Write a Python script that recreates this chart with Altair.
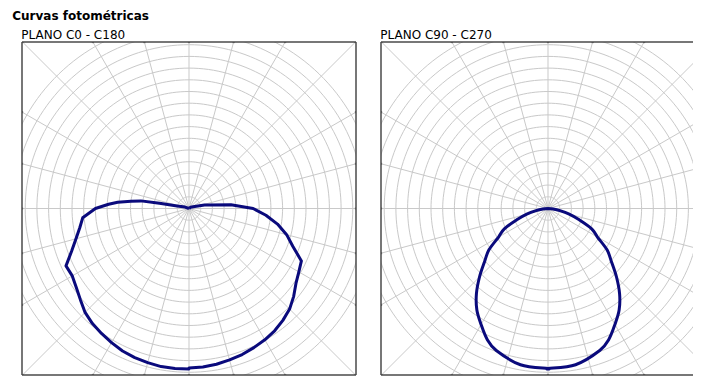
import altair as alt
import pandas as pd
import numpy as np

TITLE = "Curvas fotométricas"
PLANE_TITLES = ["PLANO C0 - C180", "PLANO C90 - C270"]

# Luminous intensity (cd/klm) vs. gamma angle (deg from nadir)
GAMMA_C0 = [0, 5, 10, 15, 20, 25, 30, 35, 40, 45, 50, 55, 60, 65, 70, 75, 80, 85, 90, 95, 100, 103, 110, 130, 180]
I_C0 = [341, 340, 338, 335, 332, 328, 324, 319, 312, 304, 292, 279, 271, 265, 236, 216, 192, 165, 137, 90, 43, 34, 13, 4, 0]
GAMMA_C180 = [0, 5, 10, 15, 20, 25, 30, 35, 40, 45, 50, 55, 60, 65, 70, 75, 80, 85, 90, 93, 95, 97, 99, 100, 102, 110, 180]
I_C180 = [343, 343, 343, 341, 339, 336, 331, 326, 321, 314, 303, 294, 288, 290, 267, 250, 237, 228, 200, 172, 153, 125, 104, 64, 26, 9, 0]
GAMMA_C90 = [0, 10, 20, 25, 30, 35, 40, 45, 50, 55, 60, 65, 70, 75, 80, 85, 90]
I_C90 = [342, 339, 323, 308, 286, 265, 238, 207, 177, 154, 122, 103, 71, 47, 26, 11, 0]
GAMMA_C270 = GAMMA_C90
I_C270 = I_C90

CIRCLE_STEP = 25      # cd/klm between grid circles
N_CIRCLES = 16
SPOKE_STEP = 15       # degrees between radial lines

# style / layout
PX_PER_STEP = 11.7
PX = PX_PER_STEP / CIRCLE_STEP
W, H = 334, 333
W_RIGHT = 312          # right panel is cut by the window edge
HALF_W = W / 2
GRID = "#c9c9c9"
CURVE = "#0a0a7c"
BORDER = "#4a4a4a"
FONT = "DejaVu Sans"


def curve_frame(g_left, i_left, g_right, i_right):
    rows = []
    for g, i in zip(reversed(g_left), reversed(i_left)):
        rows.append({"g": g, "I": i, "side": -1})
    for g, i in zip(g_right, i_right):
        rows.append({"g": g, "I": i, "side": 1})
    df = pd.DataFrame(rows)
    df["seq"] = range(len(df))
    return df


# grid circles
t = np.arange(0, 361, 2)
circ_rows = []
for k in range(1, N_CIRCLES + 1):
    r = k * CIRCLE_STEP
    for tt in t:
        circ_rows.append({"r": r, "t": tt,
                          "x": r * np.cos(np.radians(tt)),
                          "y": r * np.sin(np.radians(tt))})
circ_df = pd.DataFrame(circ_rows)

# spokes
L = 3 * (H / 2) / PX
ang = np.arange(0, 360, SPOKE_STEP)
spoke_df = pd.DataFrame({"x0": 0.0, "y0": 0.0,
                         "x1": L * np.sin(np.radians(ang)),
                         "y1": L * np.cos(np.radians(ang))})


def border_ticks():
    hx = HALF_W / PX
    hy = (H / 2) / PX
    rows = []
    for a in ang:
        s, c = np.sin(np.radians(a)), np.cos(np.radians(a))
        tx = hx / abs(s) if abs(s) > 1e-9 else np.inf
        ty = hy / abs(c) if abs(c) > 1e-9 else np.inf
        tt = min(tx, ty)
        rows.append({"bx": tt * s, "by": tt * c})
    return pd.DataFrame(rows)


tick_df = border_ticks()


def panel(cdf, title, width, right_border, interp):
    xs = alt.Scale(domain=[-HALF_W / PX, (width - HALF_W) / PX], nice=False, zero=False)
    ys = alt.Scale(domain=[-(H / 2) / PX, (H / 2) / PX], nice=False, zero=False)
    circles = alt.Chart(circ_df).mark_line(color=GRID, strokeWidth=1, clip=True).encode(
        x=alt.X("x:Q", scale=xs, axis=None),
        y=alt.Y("y:Q", scale=ys, axis=None),
        detail="r:N", order="t:Q")
    spokes = alt.Chart(spoke_df).mark_rule(color=GRID, strokeWidth=1, clip=True).encode(
        x=alt.X("x0:Q", scale=xs, axis=None),
        y=alt.Y("y0:Q", scale=ys, axis=None),
        x2="x1:Q", y2="y1:Q")
    curve = alt.Chart(cdf).transform_calculate(
        cx="datum.side * datum.I * sin(datum.g * PI / 180)",
        cy="-datum.I * cos(datum.g * PI / 180)",
    ).mark_line(color=CURVE, strokeWidth=3, clip=True, strokeJoin="round",
                interpolate=interp).encode(
        x=alt.X("cx:Q", scale=xs, axis=None),
        y=alt.Y("cy:Q", scale=ys, axis=None),
        order="seq:Q")
    ticks = alt.Chart(tick_df).mark_point(
        shape="square", size=5, filled=True, color="#777777", opacity=1, clip=True).encode(
        x=alt.X("bx:Q", scale=xs, axis=None),
        y=alt.Y("by:Q", scale=ys, axis=None))
    bw = 1.5
    edges = [
        alt.Chart().mark_rule(color=BORDER, strokeWidth=bw).encode(
            x=alt.value(0), y=alt.value(0), y2=alt.value(H)),
        alt.Chart().mark_rule(color=BORDER, strokeWidth=bw).encode(
            x=alt.value(0), x2=alt.value(width), y=alt.value(0)),
        alt.Chart().mark_rule(color=BORDER, strokeWidth=bw).encode(
            x=alt.value(0), x2=alt.value(width), y=alt.value(H)),
    ]
    if right_border:
        edges.append(alt.Chart().mark_rule(color=BORDER, strokeWidth=bw).encode(
            x=alt.value(width), y=alt.value(0), y2=alt.value(H)))
    return alt.layer(circles, spokes, curve, ticks, *edges).properties(
        width=width, height=H,
        title=alt.TitleParams(title, anchor="start", fontSize=12, font=FONT,
                              fontWeight="normal", color="#000", offset=-10,
                              baseline="alphabetic"))


left = panel(curve_frame(GAMMA_C180, I_C180, GAMMA_C0, I_C0), PLANE_TITLES[0], W, True, "linear")
right = panel(curve_frame(GAMMA_C270, I_C270, GAMMA_C90, I_C90), PLANE_TITLES[1], W_RIGHT, False, "cardinal")

chart = alt.hconcat(left, right, spacing=23).properties(
    title=alt.TitleParams(TITLE, anchor="start", fontSize=12, font=FONT,
                          fontWeight="bold", color="#000", offset=-3,
                          baseline="alphabetic", dx=-9),
    padding={"left": 4, "top": 2, "right": 0, "bottom": 0},
).configure_view(stroke=None)

chart.save("out.html", embed_options={"renderer": "svg", "actions": False})
